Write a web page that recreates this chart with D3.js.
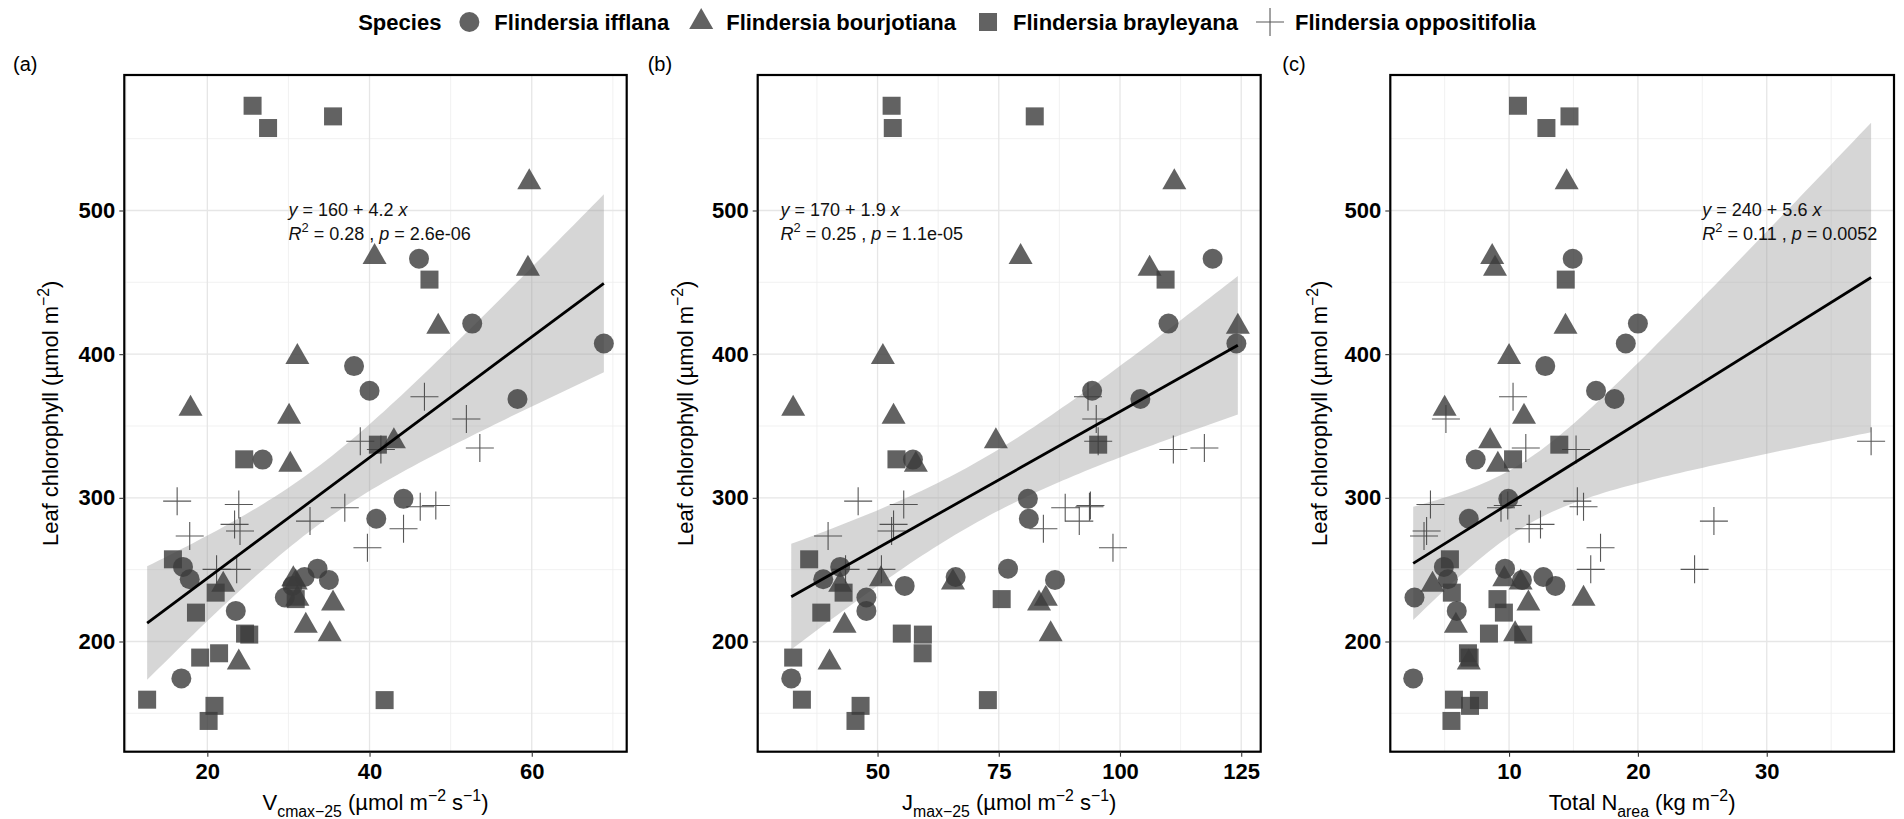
<!DOCTYPE html>
<html>
<head>
<meta charset="utf-8">
<script src="https://cdn.jsdelivr.net/npm/d3@7"></script>
<style>
  html, body { margin: 0; padding: 0; background: #fff; }
  svg { display: block; font-family: "Liberation Sans", Arial, Helvetica, sans-serif; }
</style>
</head>
<body>
<svg id="chart" width="1904" height="819"></svg>
<script>
// ---------------- data: one entry per sampled leaf ----------------
// Flindersia ifflana
const ifflanaChl   = [466.4, 421.3, 407.4, 391.7, 374.5, 368.8, 326.6, 299.3, 285.4, 251.9, 243.3, 230.6, 221.3, 174.3, 250.7, 244.9, 242.8, 238.7];
const ifflanaVcmax = [46.1, 52.66, 68.89, 38.09, 40.0, 58.24, 26.82, 44.19, 40.83, 17.0, 17.83, 29.56, 23.51, 16.8, 33.59, 31.99, 34.99, 30.5];
const ifflanaJmax  = [119.1, 110.0, 124.0, null, 94.25, 104.2, 57.3, 81.0, 81.2, 42.3, 38.8, 47.7, 47.7, 32.2, 76.9, 66.1, 86.6, 55.6];
const ifflanaNarea = [14.94, 20.0, 19.06, 12.81, 16.75, 18.19, 7.41, 9.94, 6.875, 4.94, 5.25, 2.66, 5.94, 2.56, 9.69, 12.66, 11.0, 13.6];

// Flindersia bourjotiana
const bourjotianaChl   = [519.7, 467.6, 459.5, 419.0, 398.1, 362.0, 356.5, 339.4, 323.0, 243.3, 241.0, 239.5, 229.8, 226.5, 210.9, 205.1, 185.4];
const bourjotianaVcmax = [59.69, 40.62, 59.53, 48.47, 31.1, 17.93, 30.08, 43.0, 30.23, 30.6, 30.9, 21.96, 31.1, 35.5, 32.14, 35.09, 23.88];
const bourjotianaJmax  = [111.2, 79.5, 106.1, 124.3, 51.1, 32.6, 53.3, 74.4, 57.9, 50.7, 65.55, 42.3, 84.7, 83.3, 43.2, 85.7, 40.1];
const bourjotianaNarea = [14.47, 8.69, 8.91, 14.38, 10.0, 5.0, 11.16, 8.53, 9.13, 9.63, 10.9, 4.06, 15.78, 11.5, 5.875, 10.47, 6.875];

// Flindersia brayleyana
const brayleyanaChl   = [572.9, 557.4, 565.5, 451.9, 337.0, 326.8, 257.2, 234.0, 220.1, 229.5, 205.5, 204.8, 191.8, 188.8, 159.5, 159.2, 155.2, 144.7];
const brayleyanaVcmax = [25.58, 27.49, 35.5, 47.39, 41.03, 24.55, 15.76, 21.03, 18.6, 30.9, 24.65, 25.17, 21.45, 19.12, 12.58, 41.86, 20.88, 20.16];
const brayleyanaJmax  = [52.9, 53.14, 82.42, 109.4, 95.5, 53.9, 35.9, 43.0, 38.4, 75.6, 55.0, 59.35, 59.3, 32.6, 34.4, 72.75, 46.5, 45.45];
const brayleyanaNarea = [10.69, 12.9, 14.69, 14.4, 13.9, 10.31, 5.41, 5.56, 9.6, 9.1, 8.44, 11.1, 6.81, 6.94, 5.72, 7.66, 6.97, 5.53];

// Flindersia oppositifolia
const oppositifoliaChl   = [370.4, 354.9, 339.4, 333.6, 334.7, 297.7, 295.4, 281.5, 276.9, 273.4, 283.8, 293.1, 293.75, 294.7, 278.5, 265.3, 250.2, 250.2];
const oppositifoliaVcmax = [46.77, 51.94, 38.86, 41.4, 53.6, 16.28, 23.88, 23.36, 24.03, 17.83, 32.66, 36.95, 46.25, 48.17, 44.19, 39.74, 21.14, 23.62];
const oppositifoliaJmax  = [93.4, 95.1, 95.5, 111.0, 117.4, 46.0, 55.4, 53.3, 52.9, 39.8, 91.6, 88.7, 93.7, 93.9, 84.2, 98.55, 43.4, 50.8];
const oppositifoliaNarea = [10.31, 5.1, 38.1, 15.2, 11.3, 15.3, 3.9, 12.44, 3.6, 3.4, 25.9, 9.375, 15.78, 9.9, 11.56, 17.1, 16.34, 24.4];

const speciesNames  = ["Flindersia ifflana", "Flindersia bourjotiana", "Flindersia brayleyana", "Flindersia oppositifolia"];
const speciesShapes = ["circle", "triangle", "square", "plus"];

// fitted regression per panel, as reported in the annotations
const panelTags      = ["(a)", "(b)", "(c)"];
const fitIntercepts  = [160, 170, 240];
const fitSlopes      = [4.2, 1.9, 5.6];
const fitR2          = ["0.28", "0.25", "0.11"];
const fitP           = ["2.6e-06", "1.1e-05", "0.0052"];
const labelAnchorX   = [30, 30, 25];
const labelAnchorY   = 500;

// axis ticks
const xTicksA = [20, 40, 60];
const xTicksB = [50, 75, 100, 125];
const xTicksC = [10, 20, 30];
const yTicks  = [200, 300, 400, 500];

// ---------------- assemble ----------------
const species = [
  { name: speciesNames[0], shape: speciesShapes[0], chl: ifflanaChl,       x: [ifflanaVcmax, ifflanaJmax, ifflanaNarea] },
  { name: speciesNames[1], shape: speciesShapes[1], chl: bourjotianaChl,   x: [bourjotianaVcmax, bourjotianaJmax, bourjotianaNarea] },
  { name: speciesNames[2], shape: speciesShapes[2], chl: brayleyanaChl,    x: [brayleyanaVcmax, brayleyanaJmax, brayleyanaNarea] },
  { name: speciesNames[3], shape: speciesShapes[3], chl: oppositifoliaChl, x: [oppositifoliaVcmax, oppositifoliaJmax, oppositifoliaNarea] }
];

const xTitles = [
  [{ t: "V" }, { t: "cmax\u221225", sub: true }, { t: " (\u00b5mol m" }, { t: "\u22122", sup: true }, { t: " s" }, { t: "\u22121", sup: true }, { t: ")" }],
  [{ t: "J" }, { t: "max\u221225", sub: true }, { t: " (\u00b5mol m" }, { t: "\u22122", sup: true }, { t: " s" }, { t: "\u22121", sup: true }, { t: ")" }],
  [{ t: "Total N" }, { t: "area", sub: true }, { t: " (kg m" }, { t: "\u22122", sup: true }, { t: ")" }]
];
const yTitle = [{ t: "Leaf chlorophyll (\u00b5mol m" }, { t: "\u22122", sup: true }, { t: ")" }];
const xTickSets = [xTicksA, xTicksB, xTicksC];

// ---------------- layout ----------------
const svg = d3.select("#chart");
const W = 1904, H = 819;
const plotTop = 75, plotBottom = 751.7;
const plotLeft  = [124.3, 757.7, 1390.3];
const plotRight = [626.7, 1260.7, 1894];
const cellW = W / 3;

const POINT_FILL = "#3b3b3b";
const POINT_OPACITY = 0.8;

function richText(sel, parts, size) {
  let shift = 0;
  parts.forEach(p => {
    const target = p.sub ? size * 0.3 : p.sup ? -size * 0.42 : 0;
    const ts = sel.append("tspan")
      .attr("dy", (target - shift).toFixed(2))
      .attr("font-size", (p.sub || p.sup) ? size * 0.72 : size)
      .text(p.t);
    if (p.it) ts.attr("font-style", "italic");
    shift = target;
  });
}

function drawSymbol(g, shape, cx, cy) {
  if (shape === "circle") {
    g.append("circle").attr("cx", cx).attr("cy", cy).attr("r", 10)
      .attr("fill", POINT_FILL).attr("fill-opacity", POINT_OPACITY);
  } else if (shape === "triangle") {
    g.append("path")
      .attr("d", `M${cx},${cy - 14}L${cx + 12},${cy + 7}L${cx - 12},${cy + 7}Z`)
      .attr("fill", POINT_FILL).attr("fill-opacity", POINT_OPACITY);
  } else if (shape === "square") {
    g.append("rect").attr("x", cx - 9).attr("y", cy - 9).attr("width", 18).attr("height", 18)
      .attr("fill", POINT_FILL).attr("fill-opacity", POINT_OPACITY);
  } else {
    g.append("path")
      .attr("d", `M${cx - 14},${cy}H${cx + 14}M${cx},${cy - 14}V${cy + 14}`)
      .attr("stroke", "#3b3b3b").attr("stroke-opacity", 0.85).attr("stroke-width", 1.1).attr("fill", "none");
  }
}

// inverse Student t (0.975) via Cornish-Fisher expansion
function tQuantile975(df) {
  const z = 1.959964;
  const z3 = z * z * z, z5 = z3 * z * z;
  return z + (z3 + z) / (4 * df) + (5 * z5 + 16 * z3 + 3 * z) / (96 * df * df);
}

// y scale shared by all panels (data range + 5 % padding)
const allChl = species.flatMap(s => s.chl);
const chlExt = d3.extent(allChl);
const chlPad = (chlExt[1] - chlExt[0]) * 0.05;
const y = d3.scaleLinear().domain([chlExt[0] - chlPad, chlExt[1] + chlPad]).range([plotBottom, plotTop]);

for (let p = 0; p < 3; p++) {
  const pts = [];
  species.forEach(s => {
    s.chl.forEach((c, i) => {
      const xv = s.x[p][i];
      if (xv !== null && xv !== undefined) pts.push({ x: xv, y: c, shape: s.shape });
    });
  });

  const xExt = d3.extent(pts, d => d.x);
  const lo = Math.min(xExt[0], labelAnchorX[p]);
  const hi = Math.max(xExt[1], labelAnchorX[p]);
  const pad = (hi - lo) * 0.05;
  const x = d3.scaleLinear().domain([lo - pad, hi + pad]).range([plotLeft[p], plotRight[p]]);

  const g = svg.append("g");

  // grid
  const [d0, d1] = x.domain();
  const majors = xTickSets[p];
  const step = majors[1] - majors[0];
  const minorsX = d3.range(majors[0] - step / 2, d1, step).filter(v => v > d0 && v < d1);
  const minorsY = d3.range(150, 600, 100).filter(v => v > y.domain()[0] && v < y.domain()[1]);

  g.selectAll(null).data(minorsX).join("line")
    .attr("x1", d => x(d)).attr("x2", d => x(d)).attr("y1", plotTop).attr("y2", plotBottom)
    .attr("stroke", "#ededed").attr("stroke-width", 0.8);
  g.selectAll(null).data(minorsY).join("line")
    .attr("x1", plotLeft[p]).attr("x2", plotRight[p]).attr("y1", d => y(d)).attr("y2", d => y(d))
    .attr("stroke", "#ededed").attr("stroke-width", 0.8);
  g.selectAll(null).data(majors).join("line")
    .attr("x1", d => x(d)).attr("x2", d => x(d)).attr("y1", plotTop).attr("y2", plotBottom)
    .attr("stroke", "#e6e6e6").attr("stroke-width", 1.3);
  g.selectAll(null).data(yTicks).join("line")
    .attr("x1", plotLeft[p]).attr("x2", plotRight[p]).attr("y1", d => y(d)).attr("y2", d => y(d))
    .attr("stroke", "#e6e6e6").attr("stroke-width", 1.3);

  // confidence band around the reported fit
  const n = pts.length;
  const mx = d3.mean(pts, d => d.x), my = d3.mean(pts, d => d.y);
  const sxx = d3.sum(pts, d => (d.x - mx) ** 2);
  const sxy = d3.sum(pts, d => (d.x - mx) * (d.y - my));
  const bOls = sxy / sxx, aOls = my - bOls * mx;
  const sse = d3.sum(pts, d => (d.y - (aOls + bOls * d.x)) ** 2);
  const sRes = Math.sqrt(sse / (n - 2));
  const tq = tQuantile975(n - 2);
  const fit = v => fitIntercepts[p] + fitSlopes[p] * v;
  const xs = d3.range(80).map(i => xExt[0] + (xExt[1] - xExt[0]) * i / 79);
  const band = xs.map(v => {
    const se = sRes * Math.sqrt(1 / n + (v - mx) ** 2 / sxx);
    return { x: v, lo: fit(v) - tq * se, hi: fit(v) + tq * se };
  });
  g.append("path").datum(band)
    .attr("d", d3.area().x(d => x(d.x)).y0(d => y(d.lo)).y1(d => y(d.hi)))
    .attr("fill", "#999999").attr("fill-opacity", 0.4);

  // points
  const pg = g.append("g");
  pts.forEach(d => drawSymbol(pg, d.shape, x(d.x), y(d.y)));

  // fitted line
  g.append("path").datum(xExt)
    .attr("d", d3.line().x(v => x(v)).y(v => y(fit(v))))
    .attr("stroke", "#000").attr("stroke-width", 2.8).attr("fill", "none");

  // annotation
  const ax = x(labelAnchorX[p]), ay = y(labelAnchorY);
  const eq = g.append("text").attr("x", ax).attr("y", ay + 6).attr("fill", "#111");
  richText(eq, [{ t: "y", it: true }, { t: ` = ${fitIntercepts[p]} + ${fitSlopes[p]} ` }, { t: "x", it: true }], 18);
  const rt = g.append("text").attr("x", ax).attr("y", ay + 29.5).attr("fill", "#111");
  richText(rt, [{ t: "R", it: true }, { t: "2", sup: true }, { t: ` = ${fitR2[p]} , ` }, { t: "p", it: true }, { t: ` = ${fitP[p]}` }], 18);

  // panel border
  g.append("rect")
    .attr("x", plotLeft[p]).attr("y", plotTop)
    .attr("width", plotRight[p] - plotLeft[p]).attr("height", plotBottom - plotTop)
    .attr("fill", "none").attr("stroke", "#000").attr("stroke-width", 2.2);

  // axes
  const xAxis = d3.axisBottom(x).tickValues(majors).tickSize(5).tickPadding(6.5).tickFormat(d3.format("d"));
  const gx = g.append("g").attr("transform", `translate(0,${plotBottom})`).call(xAxis);
  const yAxis = d3.axisLeft(y).tickValues(yTicks).tickSize(5).tickPadding(4).tickFormat(d3.format("d"));
  const gy = g.append("g").attr("transform", `translate(${plotLeft[p]},0)`).call(yAxis);
  [gx, gy].forEach(a => {
    a.select(".domain").remove();
    a.selectAll(".tick line").attr("stroke", "#333").attr("stroke-width", 1.1);
    a.selectAll(".tick text").attr("font-size", 22).attr("font-weight", "bold").attr("fill", "#000")
      .attr("font-family", "'Liberation Sans', Arial, sans-serif");
  });

  // axis titles
  const xt = g.append("text").attr("x", (plotLeft[p] + plotRight[p]) / 2).attr("y", 810)
    .attr("text-anchor", "middle").attr("fill", "#000");
  richText(xt, xTitles[p], 22);

  const cx0 = p * cellW;
  const ytx = cx0 + 58, yty = (plotTop + plotBottom) / 2;
  const yt = g.append("text").attr("transform", `translate(${ytx},${yty}) rotate(-90)`)
    .attr("text-anchor", "middle").attr("fill", "#000");
  richText(yt, yTitle, 22);

  // panel tag
  g.append("text").attr("x", cx0 + 13).attr("y", 71).attr("font-size", 20).attr("fill", "#000").text(panelTags[p]);
}

// ---------------- legend ----------------
const lg = svg.append("g");
const legendY = 22;
const title = lg.append("text").attr("x", 0).attr("y", legendY + 7.5)
  .attr("font-size", 22).attr("font-weight", "bold").attr("fill", "#000").text("Species");
let cursor = title.node().getComputedTextLength() + 28;
species.forEach(s => {
  drawSymbol(lg, s.shape, cursor, legendY);
  const t = lg.append("text").attr("x", cursor + 25).attr("y", legendY + 7.5)
    .attr("font-size", 22).attr("font-weight", "bold").attr("fill", "#000").text(s.name);
  cursor += 25 + t.node().getComputedTextLength() + 32;
});
const legendWidth = cursor - 32;
lg.attr("transform", `translate(${947 - legendWidth / 2},0)`);
</script>
</body>
</html>
